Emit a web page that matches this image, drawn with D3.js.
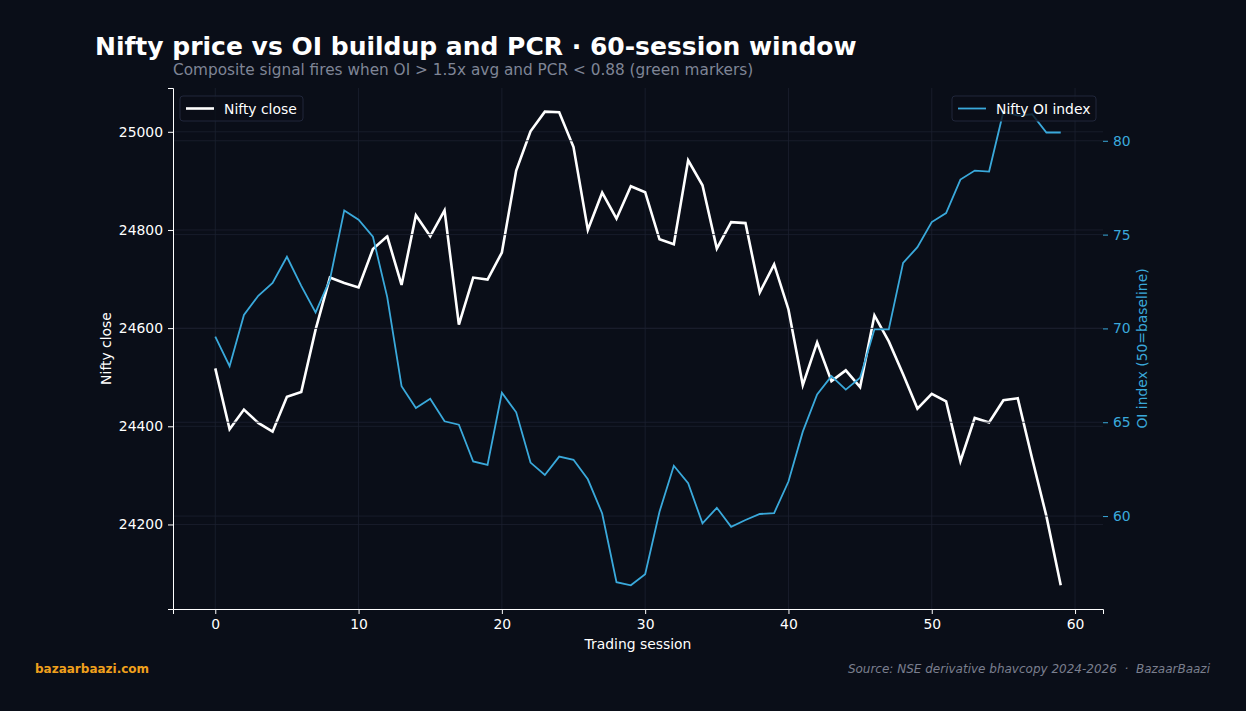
<!DOCTYPE html>
<html>
<head>
<meta charset="utf-8">
<script src="https://cdn.jsdelivr.net/npm/d3@7"></script>
<style>
  html, body { margin: 0; padding: 0; background: #0a0e18; }
  svg { display: block; font-family: "DejaVu Sans", sans-serif; }
</style>
</head>
<body>
<svg id="chart" width="1246" height="711"></svg>
<script>
// sessions 0..59
const sessions = d3.range(60);
const niftyClose = [
  24518, 24394, 24434, 24407, 24389, 24460, 24470, 24597, 24703, 24692,
  24683, 24761, 24787, 24688, 24830, 24787, 24840, 24607, 24703, 24699,
  24754, 24921, 25001, 25041, 25040, 24969, 24800, 24876, 24823, 24889,
  24877, 24781, 24771, 24942, 24891, 24762, 24816, 24814, 24673, 24730,
  24638, 24484, 24571, 24492, 24514, 24480, 24626, 24573, 24506, 24436,
  24466, 24451, 24329, 24417, 24408, 24453, 24457, 24335, 24217, 24076
];
const oiIndex = [
  69.56, 67.99, 70.72, 71.74, 72.42, 73.82, 72.27, 70.85, 72.6, 76.29,
  75.79, 74.89, 71.67, 66.92, 65.76, 66.25, 65.05, 64.87, 62.91, 62.73,
  66.57, 65.53, 62.85, 62.19, 63.17, 63.0, 61.96, 60.14, 56.48, 56.31,
  56.9, 60.23, 62.68, 61.75, 59.61, 60.44, 59.43, 59.79, 60.11, 60.16,
  61.84, 64.5, 66.48, 67.46, 66.74, 67.37, 69.95, 69.95, 73.49, 74.33,
  75.67, 76.15, 77.93, 78.41, 78.36, 81.55, 81.34, 81.41, 80.44, 80.44
];
const xTicks = [0, 10, 20, 30, 40, 50, 60];
const leftTicks = [24200, 24400, 24600, 24800, 25000];
const rightTicks = [60, 65, 70, 75, 80];

const bg = "#0a0e18";
const fg = "#ffffff";
const blue = "#3aa9db";
const grid = "#1c2130";
const fs = 13.9;

const svg = d3.select("#chart");
svg.append("rect").attr("width", 1246).attr("height", 711).attr("fill", bg);

const plot = { left: 173, right: 1103, top: 88, bottom: 609 };

function padded(ext) {
  const m = (ext[1] - ext[0]) * 0.05;
  return [ext[0] - m, ext[1] + m];
}

const x = d3.scaleLinear().domain(padded(d3.extent(sessions))).range([plot.left, plot.right]);
const yL = d3.scaleLinear().domain(padded(d3.extent(niftyClose))).range([plot.bottom, plot.top]);
const yR = d3.scaleLinear().domain(padded(d3.extent(oiIndex))).range([plot.bottom, plot.top]);

// grid of the price axis
const g1 = svg.append("g");
g1.selectAll("line.vx").data(xTicks).enter().append("line")
  .attr("x1", d => x(d)).attr("x2", d => x(d))
  .attr("y1", plot.top).attr("y2", plot.bottom)
  .attr("stroke", grid).attr("stroke-width", 0.8);
g1.selectAll("line.hy").data(leftTicks).enter().append("line")
  .attr("x1", plot.left).attr("x2", plot.right)
  .attr("y1", d => yL(d)).attr("y2", d => yL(d))
  .attr("stroke", grid).attr("stroke-width", 0.8);

// nifty close line
svg.append("path")
  .datum(niftyClose)
  .attr("fill", "none")
  .attr("stroke", fg)
  .attr("stroke-width", 2.6)
  .attr("d", d3.line().x((d, i) => x(sessions[i])).y(d => yL(d)));

// left legend
const lg1 = svg.append("g").attr("transform", "translate(180,96)");
lg1.append("rect").attr("width", 123).attr("height", 25).attr("rx", 3)
  .attr("fill", bg).attr("fill-opacity", 0.8).attr("stroke", "#20263a");
lg1.append("line").attr("x1", 6).attr("x2", 34).attr("y1", 12.5).attr("y2", 12.5)
  .attr("stroke", fg).attr("stroke-width", 2.6);
lg1.append("text").attr("x", 44).attr("y", 17.5).attr("fill", fg)
  .attr("font-size", fs).text("Nifty close");

// twin axis grid, drawn over the first axes
const g2 = svg.append("g");
g2.selectAll("line").data(rightTicks).enter().append("line")
  .attr("x1", plot.left).attr("x2", plot.right)
  .attr("y1", d => yR(d)).attr("y2", d => yR(d))
  .attr("stroke", grid).attr("stroke-width", 0.8);

// OI index line
svg.append("path")
  .datum(oiIndex)
  .attr("fill", "none")
  .attr("stroke", blue)
  .attr("stroke-width", 1.8)
  .attr("d", d3.line().x((d, i) => x(sessions[i])).y(d => yR(d)));

// right legend
const lg2 = svg.append("g").attr("transform", "translate(952,96)");
lg2.append("rect").attr("width", 144).attr("height", 25).attr("rx", 3)
  .attr("fill", bg).attr("fill-opacity", 0.8).attr("stroke", "#20263a");
lg2.append("line").attr("x1", 6).attr("x2", 34).attr("y1", 12.5).attr("y2", 12.5)
  .attr("stroke", blue).attr("stroke-width", 1.8);
lg2.append("text").attr("x", 44).attr("y", 17.5).attr("fill", fg)
  .attr("font-size", fs).text("Nifty OI index");

// axes
const xAxis = svg.append("g")
  .attr("transform", `translate(0,${plot.bottom})`)
  .call(d3.axisBottom(x).tickValues(xTicks).tickSizeOuter(0).tickSize(5).tickPadding(5));
const leftAxis = svg.append("g")
  .attr("transform", `translate(${plot.left},0)`)
  .call(d3.axisLeft(yL).tickValues(leftTicks).tickFormat(d3.format("d"))
    .tickSizeOuter(0).tickSize(5).tickPadding(5));
const rightAxis = svg.append("g")
  .attr("transform", `translate(${plot.right},0)`)
  .call(d3.axisRight(yR).tickValues(rightTicks).tickSizeOuter(0).tickSize(5).tickPadding(5));

[xAxis, leftAxis].forEach(a => {
  a.selectAll("path").attr("stroke", fg).attr("stroke-width", 1);
  a.selectAll("line").attr("stroke", fg);
  a.selectAll("text").attr("fill", fg).attr("font-size", fs).attr("font-family", "DejaVu Sans");
});
rightAxis.select("path.domain").remove();
rightAxis.selectAll("line").attr("stroke", blue);
rightAxis.selectAll("text").attr("fill", blue).attr("font-size", fs).attr("font-family", "DejaVu Sans");

// axis labels
svg.append("text").attr("x", (plot.left + plot.right) / 2).attr("y", 649)
  .attr("text-anchor", "middle").attr("fill", fg).attr("font-size", fs).text("Trading session");
svg.append("text").attr("transform", `translate(111,${(plot.top + plot.bottom) / 2}) rotate(-90)`)
  .attr("text-anchor", "middle").attr("fill", fg).attr("font-size", fs).text("Nifty close");
svg.append("text").attr("transform", `translate(1147,${(plot.top + plot.bottom) / 2}) rotate(-90)`)
  .attr("text-anchor", "middle").attr("fill", blue).attr("font-size", fs).text("OI index (50=baseline)");

// titles
svg.append("text").attr("x", 95).attr("y", 55)
  .attr("fill", fg).attr("font-size", 25).attr("font-weight", "bold")
  .text("Nifty price vs OI buildup and PCR · 60-session window");
svg.append("text").attr("x", 173).attr("y", 75)
  .attr("fill", "#7f8596").attr("font-size", 15.3)
  .text("Composite signal fires when OI > 1.5x avg and PCR < 0.88 (green markers)");

// footer
svg.append("text").attr("x", 35).attr("y", 673)
  .attr("fill", "#f0a01c").attr("font-size", 12).attr("font-weight", "bold")
  .text("bazaarbaazi.com");
svg.append("text").attr("x", 1210).attr("y", 673).attr("text-anchor", "end")
  .attr("fill", "#7a7f8e").attr("font-size", 12).attr("font-style", "italic")
  .attr("xml:space", "preserve")
  .text("Source: NSE derivative bhavcopy 2024-2026  ·  BazaarBaazi");
</script>
</body>
</html>
